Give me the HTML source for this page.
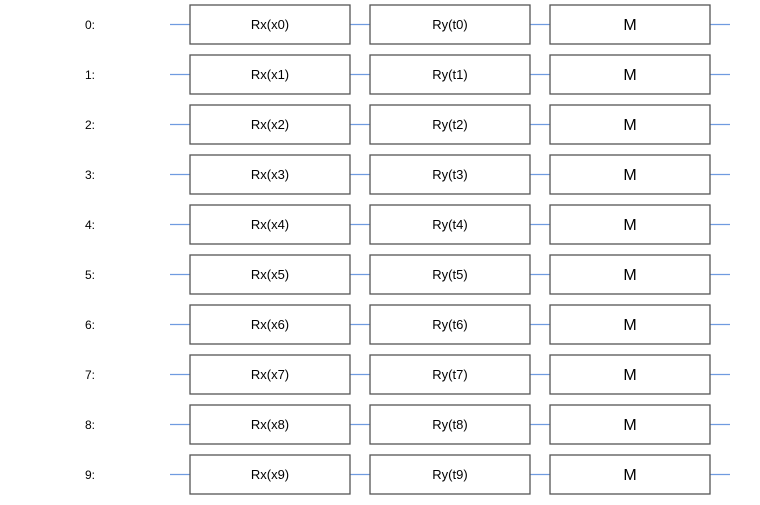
<!DOCTYPE html>
<html><head><meta charset="utf-8"><style>
body{margin:0;background:#fff;width:760px;height:500px;overflow:hidden;font-family:"Liberation Sans",sans-serif}
</style></head><body>
<svg width="760" height="500">
<g id="g"></g>
</svg>
<script>
const qubits=[0,1,2,3,4,5,6,7,8,9];
const gates=[{p:"Rx(x",s:")",f:13},{p:"Ry(t",s:")",f:13},{p:"M",s:null,f:16}];
const g=document.getElementById('g');
const NS="http://www.w3.org/2000/svg";
function mk(t,a){const e=document.createElementNS(NS,t);for(const k in a)e.setAttribute(k,a[k]);g.appendChild(e);return e;}
qubits.forEach((q,i)=>{
 const yc=24.5+i*50;
 const lab=mk('text',{x:90,y:yc+4.5,'text-anchor':'middle','font-size':12,fill:'#000'});
 lab.textContent=q+':';
 
 
 [[170,190],[350,370],[530,550],[710,730]].forEach(([a,b],j)=>{
  const l=mk('line',{x1:a,x2:b,y1:yc,y2:yc,stroke:'#6f9be0','stroke-width':1.2});
  
  
 });
 gates.forEach((gt,j)=>{
  const x=190+j*180;
  const r=mk('rect',{x:x,y:yc-19.5,width:160,height:39,fill:'#fff',stroke:'#555','stroke-width':1.3});
  
  
  const t=mk('text',{x:x+80,y:yc+(gt.f>13?5.5:4.5),'text-anchor':'middle','font-size':gt.f,fill:'#000'});
  t.textContent=gt.s===null?gt.p:gt.p+q+gt.s;
  
  
 });
});
</script>
</body></html>
